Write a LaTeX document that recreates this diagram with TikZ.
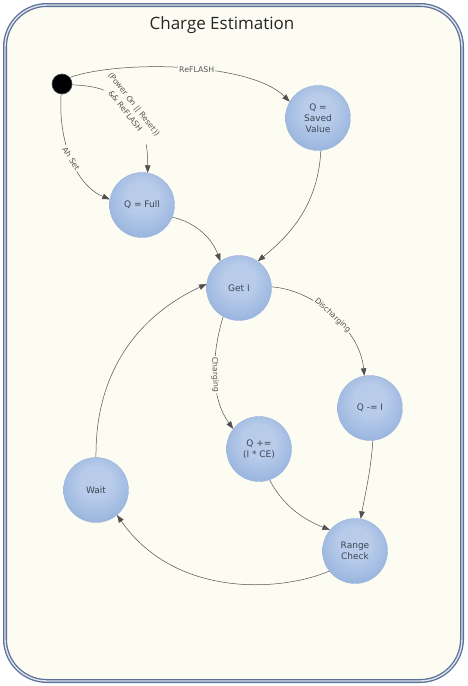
\documentclass[tikz,border=0pt]{standalone}
\usepackage{fontspec}
\setmainfont{DejaVu Sans}
\newfontfamily\titlefont{Open Sans}
\usetikzlibrary{arrows.meta}
\definecolor{bgcream}{HTML}{FDFCF3}
\definecolor{framecol}{HTML}{5B7099}
\definecolor{stin}{HTML}{B8CCEA}
\definecolor{stmid}{HTML}{93B0DC}
\definecolor{stout}{HTML}{6F93CB}
\definecolor{txtcol}{HTML}{3C4656}
\definecolor{lblcol}{HTML}{555555}
\definecolor{edgecol}{HTML}{505050}
\pgfdeclareradialshading{stshade}{\pgfpoint{0bp}{8bp}}{color(0bp)=(stin); color(12bp)=(stin); color(32bp)=(stmid); color(40bp)=(stout); color(50bp)=(stout)}
\tikzset{
  state/.style={circle, minimum size=65pt, inner sep=0pt, shading=stshade, draw=stout!70!white, line width=0.4pt,
    font=\fontsize{9}{11}\selectfont, text=txtcol, align=center},
  startdot/.style={circle, minimum size=20pt, inner sep=0pt, fill=black, draw=framecol!60!black, line width=0.6pt},
  conn/.style={draw=edgecol, line width=0.5pt, -{Triangle[length=7.5pt,width=5.5pt]}},
  lbl/.style={font=\fontsize{7.8}{11}\selectfont, text=lblcol, fill=bgcream, inner sep=1pt, align=center}
}
\begin{document}
\begin{tikzpicture}[x=1pt,y=-1pt]
\useasboundingbox (0,0) rectangle (467,686);
\fill[white] (0,0) rectangle (467,686);
\draw[fill=bgcream, draw=framecol, line width=1.3pt, double=white!80!framecol, double distance=1.4pt, rounded corners=42pt] (5,5) rectangle (462,681);
\node[font=\titlefont\fontsize{17}{20}\selectfont, text=black!85] (title) at (222,25) {Charge Estimation};

\node[startdot] (start) at (62,84) {};
\node[state] (saved) at (318,118) {Q =\\Saved\\Value};
\node[state] (full) at (142,205) {Q = Full};
\node[state] (geti) at (239,288) {Get I};
\node[state] (qminus) at (370,408) {Q -= I};
\node[state] (qplus) at (259,449) {Q +=\\(I * CE)};
\node[state] (wait) at (96,490) {Wait};
\node[state] (range) at (355,551) {Range\\Check};

\path[conn] (start.40) .. controls (120,60) and (250,62) .. (saved.150) node[lbl, pos=0.55] {ReFLASH};
\path[conn] (start.-5) .. controls (125,86) and (148,115) .. (full.80) node[lbl, pos=0.5, rotate=-52] {(Power On || Reset))\\\&\& ReFLASH};
\path[conn] (start.265) .. controls (58,140) and (75,185) .. (full.170) node[lbl, pos=0.5, rotate=-58] {Ah Set};
\path[conn] (full.-22) .. controls (195,222) and (212,238) .. (geti.125);
\path[conn] (saved.-85) .. controls (318,205) and (290,235) .. (geti.55);
\path[conn] (geti.2) .. controls (315,290) and (360,330) .. (qminus.100) node[lbl, pos=0.5, sloped] {Discharging};
\path[conn] (geti.-119) .. controls (210,360) and (212,400) .. (qplus.142) node[lbl, pos=0.47, rotate=-87] {Charging};
\path[conn] (qminus.-85) .. controls (371,470) and (365,495) .. (range.80);
\path[conn] (qplus.-71) .. controls (285,510) and (310,522) .. (range.140);
\path[conn] (range.-142) .. controls (280,592) and (175,598) .. (wait.-50);
\path[conn] (wait.90) .. controls (95,370) and (140,315) .. (geti.173);
\end{tikzpicture}
\end{document}
